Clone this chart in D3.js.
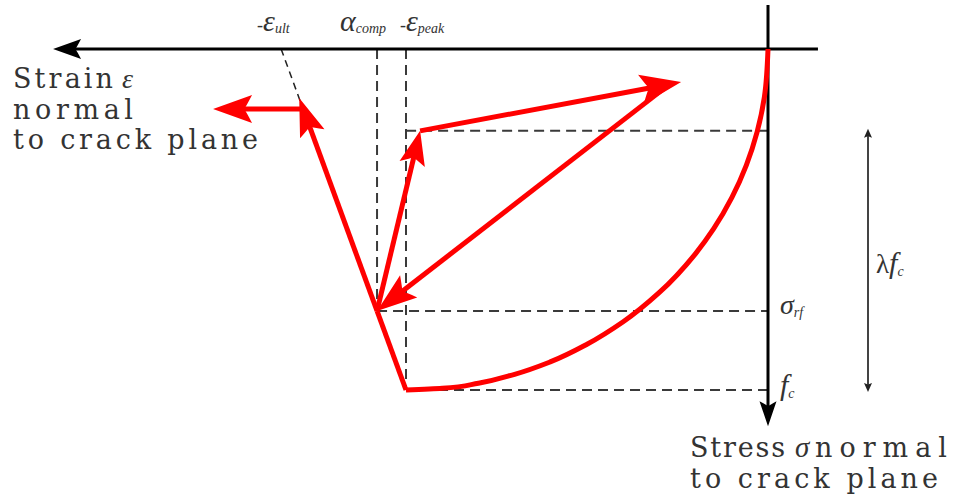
<!DOCTYPE html>
<html>
<head>
<meta charset="utf-8">
<script src="https://cdn.jsdelivr.net/npm/d3@7"></script>
<style>
  body { margin: 0; background: #fff; }
  svg { display: block; }
</style>
</head>
<body>
<svg id="chart" width="957" height="503"></svg>
<script>
// Strain is normalised by the peak strain (ε / ε_peak), stress by the strength (σ / f_c).

// Ascending compression envelope, origin to peak
const envelopeStrain = [0, 0.01, 0.03, 0.06, 0.10, 0.15, 0.20, 0.30, 0.40, 0.50, 0.60, 0.70, 0.80, 0.90, 1.00];
const envelopeStress = [0, 0.141, 0.243, 0.341, 0.436, 0.527, 0.600, 0.714, 0.800, 0.866, 0.917, 0.954, 0.980, 0.995, 1.00];

// Linear softening branch from the peak towards the ultimate strain
const softeningStrain = [1.00, 1.08, 1.295];
const softeningStress = [1.00, 0.768, 0.144];

// Reloading from σ_rf, then further loading
const reloadStrain = [1.08, 0.961];
const reloadStress = [0.768, 0.24];
const loadStrain = [0.961, 0.24];
const loadStress = [0.24, 0.097];

// Unloading back to σ_rf
const unloadStrain = [0.285, 1.08];
const unloadStress = [0.114, 0.768];

// Crushing: strain grows at constant stress
const crushStrain = [1.284, 1.533];
const crushStress = [0.176, 0.176];

// Characteristic strains marked on the strain axis
const strainMarkValues = [1.345, 1.08, 1.00];
const strainMarkSymbols = ["ε", "α", "ε"];
const strainMarkPrefix = ["-", "", "-"];
const strainMarkSubs = ["ult", "comp", "peak"];

// Characteristic stresses marked on the stress axis
const stressMarkValues = [0.768, 1.00];
const stressMarkSymbols = ["σ", "f"];
const stressMarkSubs = ["rf", "c"];

// λ·f_c span
const lambda = 0.76;

const svg = d3.select("#chart");
const x = d3.scaleLinear().domain([0, 1]).range([768, 406]);
const y = d3.scaleLinear().domain([0, 1]).range([49, 390]);

const RED = "#ff0000";
const DASH = "#3a3a3a";
const TEXT = "#333";
const SERIF = "'DejaVu Serif', 'Liberation Serif', serif";
const MATH = "'Liberation Serif', 'DejaVu Serif', serif";

// Arrowhead: straight flanks, concave notched back
function head(g, tx, ty, dx, dy, len, half, fill) {
  const n = Math.hypot(dx, dy); dx /= n; dy /= n;
  const px = -dy, py = dx;
  const bx = tx - len * dx, by = ty - len * dy;
  const c1 = [bx + half * px, by + half * py];
  const c2 = [bx - half * px, by - half * py];
  const notch = [tx - 0.8 * len * dx, ty - 0.8 * len * dy];
  const p = d3.path();
  p.moveTo(tx, ty);
  p.lineTo(c1[0], c1[1]);
  p.quadraticCurveTo(notch[0] - 0.05 * len * dx + 0.2 * half * px, notch[1] - 0.05 * len * dy + 0.2 * half * py, notch[0], notch[1]);
  p.quadraticCurveTo(notch[0] - 0.05 * len * dx - 0.2 * half * px, notch[1] - 0.05 * len * dy - 0.2 * half * py, c2[0], c2[1]);
  p.closePath();
  g.append("path").attr("d", p.toString()).attr("fill", fill).attr("stroke", "none");
}

const line = d3.line().x(d => x(d[0])).y(d => y(d[1]));
const zip = (a, b) => a.map((v, i) => [v, b[i]]);

// ---- dashed reference lines ----
const dashes = svg.append("g").attr("stroke", DASH).attr("stroke-width", 2)
  .attr("stroke-dasharray", "10,6").attr("fill", "none");
// verticals at α_comp·ε_peak and ε_peak
dashes.append("line").attr("x1", x(strainMarkValues[1])).attr("x2", x(strainMarkValues[1]))
  .attr("y1", y(0)).attr("y2", y(stressMarkValues[0]));
dashes.append("line").attr("x1", x(strainMarkValues[2])).attr("x2", x(strainMarkValues[2]))
  .attr("y1", y(0)).attr("y2", y(stressMarkValues[1]));
// horizontals
dashes.append("line").attr("x1", x(reloadStrain[1]) - 14).attr("x2", x(0))
  .attr("y1", y(1 - lambda)).attr("y2", y(1 - lambda));
dashes.append("line").attr("x1", x(strainMarkValues[1])).attr("x2", x(0))
  .attr("y1", y(stressMarkValues[0])).attr("y2", y(stressMarkValues[0]));
dashes.append("line").attr("x1", x(strainMarkValues[2])).attr("x2", x(0))
  .attr("y1", y(stressMarkValues[1])).attr("y2", y(stressMarkValues[1]));
// softening line extended to zero stress at ε_ult
svg.append("line").attr("stroke", "#222").attr("stroke-width", 1.5).attr("stroke-dasharray", "7,5")
  .attr("x1", x(strainMarkValues[0])).attr("y1", y(0))
  .attr("x2", x(softeningStrain[1])).attr("y2", y(softeningStress[1]));

// ---- axes ----
const axes = svg.append("g");
axes.append("line").attr("x1", x(-0.138)).attr("x2", x(1.94)).attr("y1", y(0)).attr("y2", y(0))
  .attr("stroke", "#000").attr("stroke-width", 3);
head(axes, x(1.975), y(0), -1, 0, 28, 10, "#000");
axes.append("line").attr("x1", x(0)).attr("x2", x(0)).attr("y1", y(-0.129)).attr("y2", y(1.06))
  .attr("stroke", "#000").attr("stroke-width", 3);
head(axes, x(0), y(1.106), 0, 1, 25, 8.5, "#000");

// ---- λ f_c span ----
const lam = svg.append("g");
lam.append("line").attr("x1", 868).attr("x2", 868).attr("y1", y(1 - lambda) + 4).attr("y2", y(1) - 4)
  .attr("stroke", "#444").attr("stroke-width", 2);
head(lam, 868, y(1 - lambda) - 2, 0, -1, 9, 4, "#222");
head(lam, 868, y(1) + 2, 0, 1, 9, 4, "#222");

// ---- red stress-strain paths ----
const red = svg.append("g").attr("fill", "none").attr("stroke", RED).attr("stroke-width", 5);

// ascending envelope
red.append("path")
  .attr("d", line.curve(d3.curveMonotoneY)(zip(envelopeStrain, envelopeStress)));
line.curve(d3.curveLinear);

// arrow drawn along a polyline, shaft stopping inside the head
function redArrow(xs, ys, len, half) {
  const pts = zip(xs, ys).map(d => [x(d[0]), y(d[1])]);
  const a = pts[pts.length - 2], b = pts[pts.length - 1];
  const dx = b[0] - a[0], dy = b[1] - a[1];
  const n = Math.hypot(dx, dy);
  const end = [b[0] - dx / n * len * 0.75, b[1] - dy / n * len * 0.75];
  const shaft = pts.slice(0, -1).concat([end]);
  red.append("path").attr("d", d3.line()(shaft)).attr("stroke-linejoin", "miter");
  head(svg, b[0], b[1], dx, dy, len, half, RED);
}

// peak -> σ_rf
red.append("path").attr("d", line([[softeningStrain[0], softeningStress[0]], [softeningStrain[1], softeningStress[1]]]));
// σ_rf -> up along the softening line
redArrow(softeningStrain.slice(1), softeningStress.slice(1), 38, 13);
redArrow(crushStrain, crushStress, 39, 14);
redArrow(reloadStrain, reloadStress, 34, 13);
redArrow(loadStrain, loadStress, 41, 15);
redArrow(unloadStrain, unloadStress, 40, 14);

// ---- text ----
function bodyText(xp, yp, str, len) {
  return svg.append("text").attr("x", xp).attr("y", yp)
    .attr("font-family", SERIF).attr("font-size", 27).attr("fill", TEXT)
    .attr("textLength", len).attr("lengthAdjust", "spacing").text(str);
}
function symText(xp, yp, str, size) {
  return svg.append("text").attr("x", xp).attr("y", yp)
    .attr("font-family", MATH).attr("font-style", "italic").attr("font-size", size).attr("fill", TEXT).text(str);
}

// strain axis title
bodyText(13, 88, "Strain", 100);
symText(122, 88, "ε", 28);
bodyText(13, 119, "normal", 120);
bodyText(13, 149, "to crack plane", 245);

// stress axis title
bodyText(690, 457, "Stress", 95);
symText(795, 457, "σ", 29);
bodyText(815, 457, "normal", 132);
bodyText(690, 488, "to crack plane", 248);

// strain mark labels
const strainLabelDx = [-24, -37, -6];
strainMarkValues.forEach((v, i) => {
  const t = svg.append("text").attr("x", x(v) + strainLabelDx[i]).attr("y", 31)
    .attr("font-family", MATH).attr("fill", TEXT);
  if (strainMarkPrefix[i]) t.append("tspan").attr("font-size", 18).text(strainMarkPrefix[i]);
  t.append("tspan").attr("font-size", 30).attr("font-style", "italic").text(strainMarkSymbols[i]);
  t.append("tspan").attr("font-size", 14).attr("font-style", "italic").attr("dy", 2).text(strainMarkSubs[i]);
});

// stress mark labels
const stressLabelDy = [3, 5];
stressMarkValues.forEach((v, i) => {
  const t = svg.append("text").attr("x", 780).attr("y", y(v) + stressLabelDy[i])
    .attr("font-family", MATH).attr("fill", TEXT);
  t.append("tspan").attr("font-size", i === 0 ? 28 : 30).attr("font-style", "italic").text(stressMarkSymbols[i]);
  t.append("tspan").attr("font-size", 14).attr("font-style", "italic").attr("dy", 3).text(stressMarkSubs[i]);
});

// λ f_c label
const lt = svg.append("text").attr("x", 876).attr("y", y(1 - lambda / 2) + 13)
  .attr("font-family", MATH).attr("fill", TEXT);
lt.append("tspan").attr("font-size", 27).text("λ");
lt.append("tspan").attr("font-size", 30).attr("font-style", "italic").text("f");
lt.append("tspan").attr("font-size", 14).attr("font-style", "italic").attr("dy", 3).text("c");
</script>
</body>
</html>
